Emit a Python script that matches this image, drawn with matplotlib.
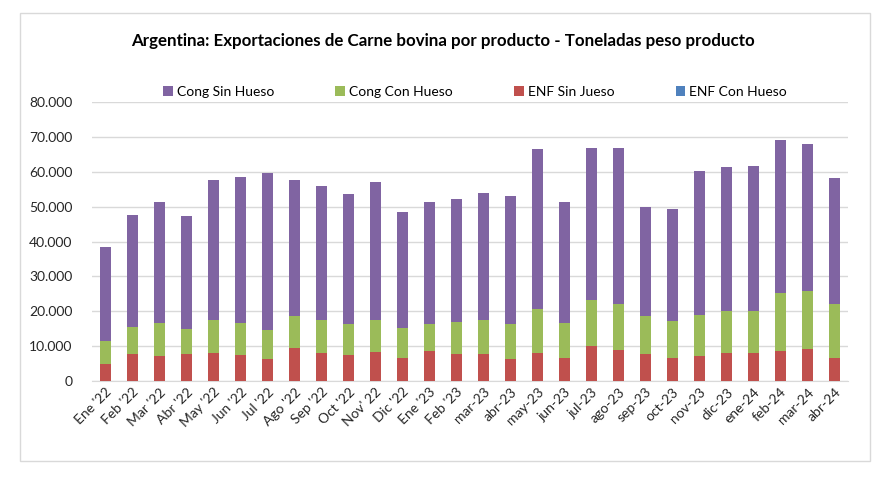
import matplotlib.pyplot as plt
import numpy as np
from matplotlib.patches import Rectangle
from matplotlib.ticker import FuncFormatter

plt.rcParams['font.family'] = ['Lato', 'DejaVu Sans']

meses = ["Ene '22", "Feb '22", "Mar '22", "Abr '22", "May '22", "Jun '22", "Jul '22",
         "Ago '22", "Sep '22", "Oct '22", "Nov' 22", "Dic '22", "Ene '23", "Feb '23",
         "mar-23", "abr-23", "may-23", "jun-23", "jul-23", "ago-23", "sep-23", "oct-23",
         "nov-23", "dic-23", "ene-24", "feb-24", "mar-24", "abr-24"]

# tons
enf_sin_hueso = [4900, 7800, 7300, 7800, 8000, 7500, 6400, 9600, 7900, 7500, 8400, 6700, 8600, 7600,
                 7800, 6400, 7900, 6700, 10000, 9000, 7800, 6700, 7300, 8000, 8000, 8700, 9300, 6700]
cong_con_hueso = [6700, 7800, 9400, 7000, 9500, 9200, 8200, 9000, 9600, 8900, 9100, 8500, 7800, 9200,
                  9700, 10000, 12700, 9900, 13300, 13000, 10900, 10500, 11700, 12200, 12200, 16500, 16500, 15400]
cong_sin_hueso = [26800, 32000, 34600, 32500, 40000, 41800, 45000, 38900, 38300, 37100, 39500, 33300, 34900, 35400,
                  36500, 36700, 45800, 34700, 43400, 44900, 31100, 32100, 41100, 41100, 41500, 43900, 42100, 36100]
enf_con_hueso = [0] * 28

c_purple = "#8064A2"
c_green = "#9BBB59"
c_red = "#C0504D"
c_blue = "#4F81BD"

fig = plt.figure(figsize=(8.85, 4.78), dpi=100)
fig.patches.append(Rectangle((20 / 885, 1 - 461 / 478), 850 / 885, 448 / 478, transform=fig.transFigure,
                             fill=False, edgecolor="#D9D9D9", linewidth=1))

ax = fig.add_axes([92 / 885, 1 - 381 / 478, 756 / 885, 279 / 478])
x = np.arange(len(meses))
w = 0.4
b1 = np.array(enf_sin_hueso)
b2 = b1 + np.array(cong_con_hueso)
b3 = b2 + np.array(cong_sin_hueso)
h4 = ax.bar(x, enf_con_hueso, w, bottom=b3, color=c_blue, label="ENF Con Hueso", zorder=3)
h3 = ax.bar(x, enf_sin_hueso, w, color=c_red, label="ENF Sin Jueso", zorder=3)
h2 = ax.bar(x, cong_con_hueso, w, bottom=b1, color=c_green, label="Cong Con Hueso", zorder=3)
h1 = ax.bar(x, cong_sin_hueso, w, bottom=b2, color=c_purple, label="Cong Sin Hueso", zorder=3)

ax.set_xlim(-0.5, len(meses) - 0.5)
ax.set_ylim(0, 80000)
ax.set_yticks(np.arange(0, 80001, 10000))
ax.yaxis.set_major_formatter(FuncFormatter(lambda v, p: f"{int(v):,}".replace(",", ".")))
ax.grid(axis="y", color="#D9D9D9", linewidth=1, zorder=0)
for s in ["top", "right", "left"]:
    ax.spines[s].set_visible(False)
ax.spines["bottom"].set_color("#D9D9D9")
ax.tick_params(axis="both", length=0, labelsize=10, colors="#262626")
ax.tick_params(axis="y", pad=14)
ax.set_xticks(x)
ax.set_xticklabels(meses, rotation=45, ha="right", rotation_mode="anchor")

fig.text(0.5, 1 - 41 / 478, "Argentina: Exportaciones de Carne bovina por producto - Toneladas peso producto",
         ha="center", va="center", fontsize=12.2, fontweight="bold")
fig.legend([h1, h2, h3, h4], ["Cong Sin Hueso", "Cong Con Hueso", "ENF Sin Jueso", "ENF Con Hueso"],
           loc="center", bbox_to_anchor=(475 / 885, 1 - 92 / 478), ncol=4, frameon=False,
           fontsize=10, handlelength=0.7, handleheight=0.7, columnspacing=4.4, handletextpad=0.3)

fig.savefig("out.png", dpi=100)
